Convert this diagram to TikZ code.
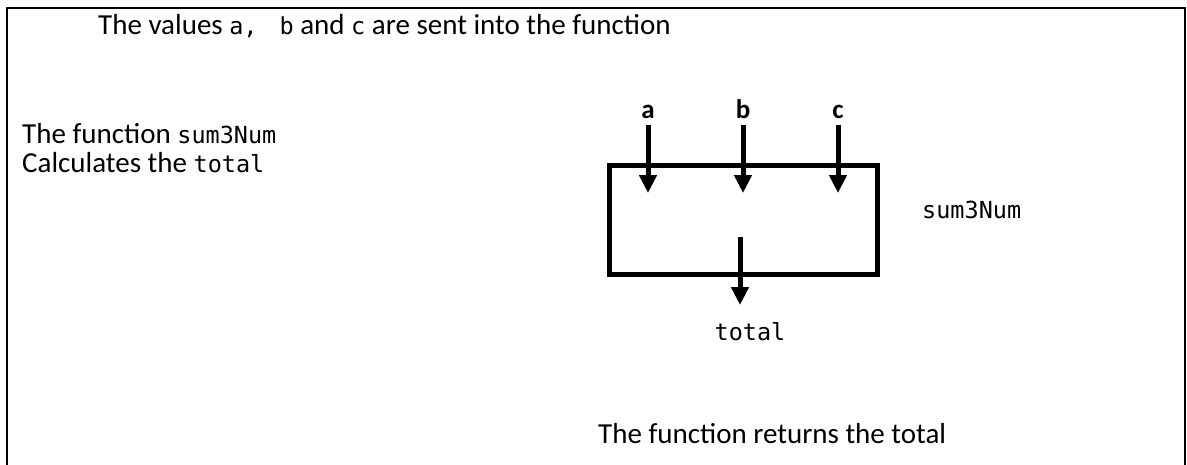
\documentclass[tikz,border=0pt]{standalone}
\usepackage{fontspec}
\setmainfont{Carlito}
\setmonofont{DejaVu Sans Mono}[Scale=0.81]
\usetikzlibrary{arrows.meta}
\begin{document}
\begin{tikzpicture}[x=1pt,y=-1pt,
  txt/.style={inner sep=0pt,font=\fontsize{29}{30}\selectfont},
  lbl/.style={inner sep=0pt,font=\fontsize{27}{29}\selectfont\bfseries},
  flow/.style={line width=5pt,-{Triangle[width=17pt,length=18pt]}},
  fnbox/.style={draw,line width=5pt,inner sep=0pt}]
\useasboundingbox (0,0) rectangle (1187,464);
% open frame round the whole sketch
\draw[line width=2pt] (7,470) -- (7,7.5) -- (1185,7.5) -- (1185,470);

\node[txt,anchor=base west] (top) at (98,34) {The values \texttt{a,}\hspace{22pt}\texttt{b} and \texttt{c} are sent into the function};
\node[txt,anchor=base west] (left1) at (22,143) {The function \texttt{sum3Num}};
\node[txt,anchor=base west] (left2) at (22,172) {Calculates the \texttt{total}};

% the function box
\node[fnbox,minimum width=268pt,minimum height=109pt] (fn) at (743,220) {};
\node[txt,anchor=base west] (name) at (922,218) {\texttt{sum3Num}};

% inputs
\node[lbl,anchor=base] (a) at (648,118) {a};
\node[lbl,anchor=base] (b) at (743,118) {b};
\node[lbl,anchor=base] (c) at (838,118) {c};
\coordinate (ea) at (648,193);
\coordinate (eb) at (743,193);
\coordinate (ec) at (838,193);
\draw[flow] (648,125) -- (ea);
\draw[flow] (743,125) -- (eb);
\draw[flow] (838,125) -- (ec);

% output
\coordinate (os) at (740,237);
\coordinate (oe) at (740,305);
\node[txt,anchor=base] (total) at (750,340) {\texttt{total}};
\draw[flow] (os) -- (oe);

\node[txt,anchor=base west] (ret) at (598,443) {The function returns the total};
\end{tikzpicture}
\end{document}
